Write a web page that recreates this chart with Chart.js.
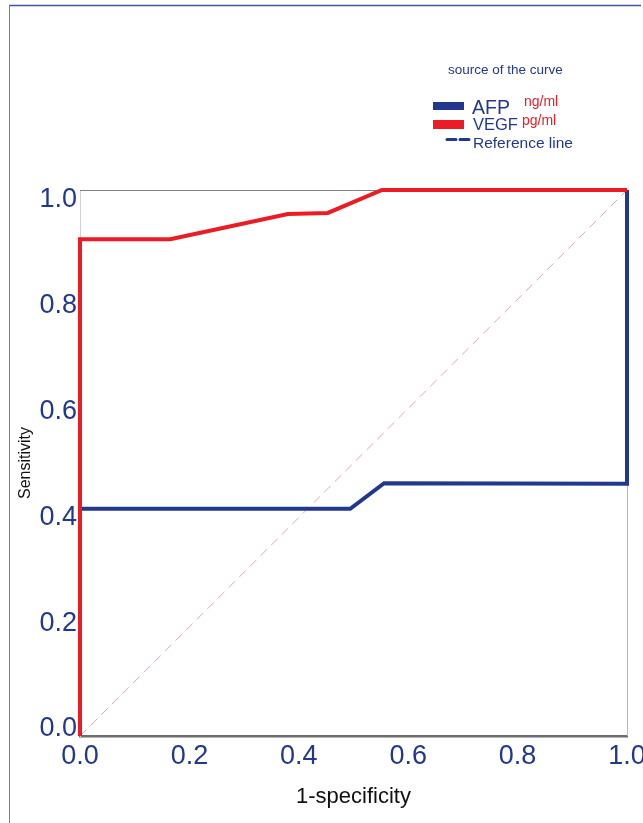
<!DOCTYPE html>
<html>
<head>
<meta charset="utf-8">
<title>ROC curve</title>
<script src="https://cdn.jsdelivr.net/npm/chart.js@4.4.1/dist/chart.umd.min.js"></script>
<style>
  html, body { margin: 0; padding: 0; background: #fff; }
  #roc { display: block; }
</style>
</head>
<body>
<canvas id="roc" width="643" height="823"></canvas>
<script>
// ROC points (1-specificity, sensitivity)
var afpX  = [0, 0, 0.494, 0.556, 1, 1];
var afpY  = [0, 0.416, 0.416, 0.463, 0.462, 1];
var vegfX = [0, 0, 0.165, 0.38, 0.453, 0.552, 1];
var vegfY = [0, 0.91, 0.91, 0.956, 0.958, 1, 1];
var refX  = [0, 1];
var refY  = [0, 1];
var tickValues = [0, 0.2, 0.4, 0.6, 0.8, 1.0];

var NAVY = '#22388e';
var RED  = '#ec1c24';
var PINK = '#eaa3b3';
var FONT = '"Liberation Sans", Arial, Helvetica, sans-serif';

function pairs(xs, ys) {
  return xs.map(function (x, i) { return { x: x, y: ys[i] }; });
}

function fixedTicks(s) {
  s.ticks = tickValues.map(function (v) { return { value: v }; });
}

// outer frame + plot box top/right edges
var framePlugin = {
  id: 'frame',
  beforeDraw: function (chart) {
    var ctx = chart.ctx;
    ctx.save();
    ctx.strokeStyle = '#41529f';
    ctx.lineWidth = 1.5;
    ctx.beginPath();
    ctx.moveTo(9, 5.5); ctx.lineTo(641, 5.5);
    ctx.stroke();
    ctx.strokeStyle = '#6b7bbb';
    ctx.lineWidth = 1;
    ctx.beginPath();
    ctx.moveTo(9.5, 5); ctx.lineTo(9.5, 823);
    ctx.stroke();
    ctx.restore();
  },
  beforeDatasetsDraw: function (chart) {
    var a = chart.chartArea, ctx = chart.ctx;
    ctx.save();
    ctx.lineWidth = 1;
    ctx.strokeStyle = '#808080';
    ctx.beginPath();
    ctx.moveTo(a.left, a.top + 0.5); ctx.lineTo(a.right, a.top + 0.5);
    ctx.stroke();
    ctx.strokeStyle = '#b8b8b8';
    ctx.beginPath();
    ctx.moveTo(a.right + 0.5, a.top); ctx.lineTo(a.right + 0.5, a.bottom);
    ctx.stroke();
    ctx.restore();
  }
};

// legend block in the upper right
var legendPlugin = {
  id: 'rocLegend',
  afterDraw: function (chart) {
    var ctx = chart.ctx;
    ctx.save();
    ctx.textBaseline = 'alphabetic';
    ctx.textAlign = 'left';

    ctx.fillStyle = NAVY;
    ctx.font = '13.5px ' + FONT;
    ctx.fillText('source of the curve', 448, 74);

    ctx.fillStyle = NAVY;
    ctx.fillRect(433, 102, 31, 8);
    ctx.font = '19.5px ' + FONT;
    ctx.fillText('AFP', 472, 114);
    ctx.fillStyle = RED;
    ctx.font = '14px ' + FONT;
    ctx.fillText('ng/ml', 524, 106);

    ctx.fillStyle = RED;
    ctx.fillRect(433, 120, 31, 9);
    ctx.fillStyle = NAVY;
    ctx.font = '16.5px ' + FONT;
    ctx.fillText('VEGF', 473, 130);
    ctx.fillStyle = RED;
    ctx.font = '14px ' + FONT;
    ctx.fillText('pg/ml', 522, 125);

    ctx.strokeStyle = NAVY;
    ctx.lineWidth = 3;
    ctx.lineCap = 'round';
    ctx.beginPath();
    ctx.moveTo(447, 139.5); ctx.lineTo(456, 139.5);
    ctx.moveTo(460, 139.5); ctx.lineTo(469, 139.5);
    ctx.stroke();
    ctx.fillStyle = NAVY;
    ctx.font = '15.5px ' + FONT;
    ctx.fillText('Reference line', 473, 148);
    ctx.restore();
  }
};

new Chart(document.getElementById('roc'), {
  type: 'line',
  data: {
    datasets: [
      {
        label: 'VEGF',
        data: pairs(vegfX, vegfY),
        borderColor: RED,
        borderWidth: 4,
        pointRadius: 0,
        tension: 0,
        clip: false,
        order: 0
      },
      {
        label: 'AFP',
        data: pairs(afpX, afpY),
        borderColor: NAVY,
        borderWidth: 4,
        pointRadius: 0,
        tension: 0,
        clip: false,
        order: 1
      },
      {
        label: 'Reference line',
        data: pairs(refX, refY),
        borderColor: PINK,
        borderWidth: 1,
        borderDash: [9, 6],
        pointRadius: 0,
        order: 2
      }
    ]
  },
  options: {
    responsive: false,
    animation: false,
    devicePixelRatio: 1,
    layout: { padding: { top: 190, right: 16, left: 0, bottom: 0 } },
    plugins: {
      legend: { display: false },
      tooltip: { enabled: false }
    },
    scales: {
      x: {
        type: 'linear',
        min: 0,
        max: 1,
        afterFit: function (s) { s.height = 87; s.paddingLeft = 0; s.paddingRight = 0; },
        afterBuildTicks: fixedTicks,
        grid: { display: false, drawTicks: false },
        border: { color: '#6e6e6e', width: 2.5 },
        ticks: {
          color: NAVY,
          padding: 4,
          maxRotation: 0,
          font: { family: FONT, size: 27 },
          callback: function (v) { return v.toFixed(1); }
        },
        title: {
          display: true,
          text: '1-specificity',
          color: '#111',
          font: { family: FONT, size: 22 },
          padding: { top: 0, bottom: 13 }
        }
      },
      // data axis; the labelled axis below carries the ticks
      y: {
        type: 'linear',
        min: 0,
        max: 1,
        display: false
      },
      // tick labels sit slightly inside the 0..1 span
      yTicks: {
        type: 'linear',
        position: 'left',
        min: -0.0132,
        max: 1.0189,
        afterFit: function (s) { s.width = 80; s.paddingTop = 0; s.paddingBottom = 0; },
        afterBuildTicks: fixedTicks,
        grid: { display: false, drawTicks: false },
        border: { color: '#cfcfcf', width: 1 },
        ticks: {
          color: NAVY,
          padding: 3,
          font: { family: FONT, size: 27 },
          callback: function (v) { return v.toFixed(1); }
        },
        title: {
          display: true,
          text: 'Sensitivity',
          color: '#111',
          font: { family: FONT, size: 16 },
          padding: { top: 16, bottom: 0 }
        }
      }
    }
  },
  plugins: [framePlugin, legendPlugin]
});
</script>
</body>
</html>
